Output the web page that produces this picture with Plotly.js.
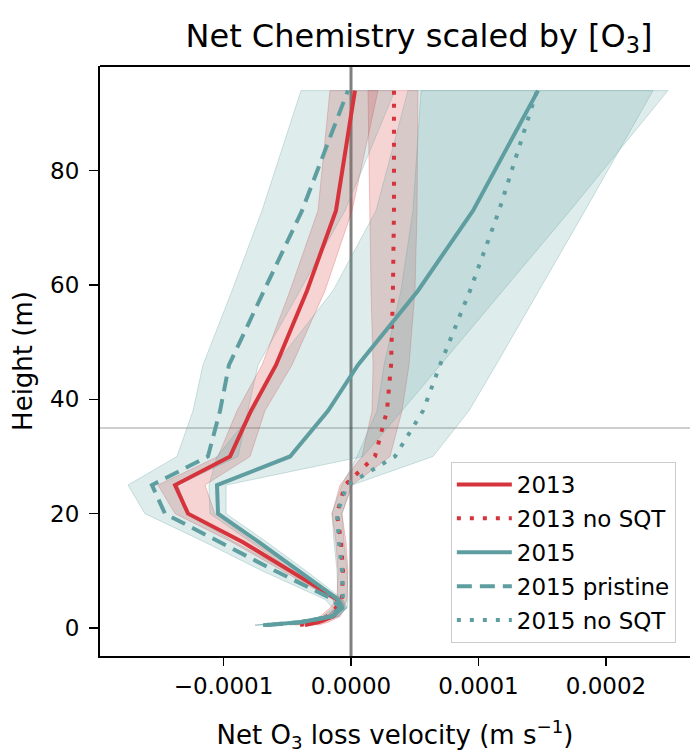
<!DOCTYPE html>
<html>
<head>
<meta charset="utf-8">
<script src="https://cdn.plot.ly/plotly-3.0.1.min.js"></script>
<style>html,body{margin:0;padding:0;background:#fff;overflow:hidden}</style>
</head>
<body>
<div id="chart" style="width:690px;height:753px"></div>
<script>
// Heights (m)
const heights = [0.5, 1, 2, 3.5, 5, 10, 15, 20, 25, 30, 38, 46, 59, 73, 94];

// 2013
const v2013 = [-0.361e-4,-0.259e-4,-0.141e-4,-0.086e-4,-0.110e-4,-0.478e-4,-0.847e-4,-1.278e-4,-1.380e-4,-0.949e-4,-0.784e-4,-0.588e-4,-0.345e-4,-0.118e-4,0.031e-4];
const lo2013 = [-0.439e-4,-0.322e-4,-0.188e-4,-0.125e-4,-0.141e-4,-0.541e-4,-0.933e-4,-1.380e-4,-1.514e-4,-1.043e-4,-0.894e-4,-0.698e-4,-0.478e-4,-0.259e-4,-0.165e-4];
const hi2013 = [-0.259e-4,-0.180e-4,-0.086e-4,-0.047e-4,-0.071e-4,-0.416e-4,-0.761e-4,-1.067e-4,-1.145e-4,-0.792e-4,-0.675e-4,-0.463e-4,-0.204e-4,0.008e-4,0.212e-4];

// 2013 no SQT
const v2013n = [-0.400e-4,-0.298e-4,-0.188e-4,-0.118e-4,-0.071e-4,-0.063e-4,-0.078e-4,-0.110e-4,-0.047e-4,0.188e-4,0.282e-4,0.314e-4,0.329e-4,0.337e-4,0.337e-4];
const lo2013n = [-0.478e-4,-0.376e-4,-0.243e-4,-0.165e-4,-0.110e-4,-0.102e-4,-0.118e-4,-0.149e-4,-0.086e-4,0.086e-4,0.165e-4,0.173e-4,0.157e-4,0.149e-4,0.133e-4];
const hi2013n = [-0.306e-4,-0.212e-4,-0.125e-4,-0.063e-4,-0.031e-4,-0.024e-4,-0.039e-4,-0.071e-4,0.008e-4,0.306e-4,0.400e-4,0.455e-4,0.502e-4,0.518e-4,0.525e-4];

// 2015
const v2015 = [-0.690e-4,-0.400e-4,-0.149e-4,-0.071e-4,-0.102e-4,-0.408e-4,-0.722e-4,-1.043e-4,-1.051e-4,-0.478e-4,-0.180e-4,0.055e-4,0.525e-4,0.957e-4,1.467e-4];
const lo2015 = [-0.753e-4,-0.463e-4,-0.196e-4,-0.110e-4,-0.141e-4,-0.463e-4,-0.784e-4,-1.106e-4,-1.114e-4,-1.051e-4,-0.761e-4,-0.596e-4,-0.141e-4,0.196e-4,0.447e-4];
const hi2015 = [-0.620e-4,-0.337e-4,-0.102e-4,-0.031e-4,-0.063e-4,-0.353e-4,-0.659e-4,-0.980e-4,-0.980e-4,0.094e-4,0.400e-4,0.706e-4,1.192e-4,1.718e-4,2.486e-4];

// 2015 pristine
const v2015p = [-0.651e-4,-0.400e-4,-0.165e-4,-0.086e-4,-0.141e-4,-0.596e-4,-1.027e-4,-1.459e-4,-1.561e-4,-1.122e-4,-1.027e-4,-0.957e-4,-0.682e-4,-0.384e-4,-0.024e-4];
const lo2015p = [-0.753e-4,-0.478e-4,-0.227e-4,-0.141e-4,-0.204e-4,-0.698e-4,-1.145e-4,-1.616e-4,-1.749e-4,-1.365e-4,-1.239e-4,-1.161e-4,-0.933e-4,-0.698e-4,-0.392e-4];
const hi2015p = [-0.557e-4,-0.306e-4,-0.102e-4,-0.039e-4,-0.086e-4,-0.494e-4,-0.910e-4,-1.286e-4,-1.357e-4,-0.886e-4,-0.808e-4,-0.729e-4,-0.400e-4,-0.047e-4,0.345e-4];

// 2015 no SQT
const v2015n = [-0.675e-4,-0.400e-4,-0.149e-4,-0.071e-4,-0.063e-4,-0.071e-4,-0.094e-4,-0.110e-4,-0.031e-4,0.345e-4,0.565e-4,0.698e-4,0.933e-4,1.161e-4,1.459e-4];
const lo2015n = [-0.753e-4,-0.463e-4,-0.196e-4,-0.110e-4,-0.102e-4,-0.110e-4,-0.133e-4,-0.149e-4,-0.071e-4,0.047e-4,0.204e-4,0.259e-4,0.392e-4,0.486e-4,0.549e-4];
const hi2015n = [-0.596e-4,-0.337e-4,-0.102e-4,-0.031e-4,-0.024e-4,-0.031e-4,-0.055e-4,-0.071e-4,0.008e-4,0.643e-4,0.925e-4,1.137e-4,1.475e-4,1.835e-4,2.369e-4];

const names = ['2013','2013 no SQT','2015','2015 pristine','2015 no SQT'];
const xTickVals = [-0.0001, 0, 0.0001, 0.0002];
const xTickText = ['\u22120.0001','0.0000','0.0001','0.0002'];
const yTickVals = [0, 20, 40, 60, 80];

const RED = '#d6343c', TEAL = '#5f9ea0';
const FONT = 'DejaVu Sans, sans-serif';

const series = [
  {name: names[0], v: v2013, lo: lo2013, hi: hi2013, color: RED, fill: 'rgba(214,39,40,0.2)', edge: 'rgba(214,39,40,0.25)', dash: 'solid'},
  {name: names[1], v: v2013n, lo: lo2013n, hi: hi2013n, color: RED, fill: 'rgba(214,39,40,0.2)', edge: 'rgba(214,39,40,0.25)', dash: '4px,9px'},
  {name: names[2], v: v2015, lo: lo2015, hi: hi2015, color: TEAL, fill: 'rgba(95,158,160,0.2)', edge: 'rgba(95,158,160,0.3)', dash: 'solid'},
  {name: names[3], v: v2015p, lo: lo2015p, hi: hi2015p, color: TEAL, fill: 'rgba(95,158,160,0.2)', edge: 'rgba(95,158,160,0.3)', dash: '15px,8px'},
  {name: names[4], v: v2015n, lo: lo2015n, hi: hi2015n, color: TEAL, fill: 'rgba(95,158,160,0.2)', edge: 'rgba(95,158,160,0.3)', dash: '4px,9px'}
];

const traces = [];
series.forEach(s => {
  traces.push({
    x: s.lo.concat(s.hi.slice().reverse()),
    y: heights.concat(heights.slice().reverse()),
    type: 'scatter', mode: 'lines', fill: 'toself',
    fillcolor: s.fill, line: {color: s.edge, width: 1},
    showlegend: false, hoverinfo: 'skip'
  });
});
series.forEach((s, i) => {
  traces.push({
    x: s.v, y: heights, type: 'scatter', mode: 'lines', name: s.name,
    legendgroup: 'g' + i,
    line: {color: s.color, width: 4, dash: s.dash}
  });
});

const layout = {
  width: 690, height: 753,
  margin: {l: 100, r: 0, t: 66, b: 97},
  paper_bgcolor: '#fff', plot_bgcolor: '#fff',
  font: {family: FONT, color: '#000'},
  title: {text: 'Net Chemistry scaled by [O<sub>3</sub>]', font: {size: 32, family: FONT, color: '#000'},
          xref: 'paper', x: 0.5407, xanchor: 'center', yref: 'container', y: 0.953, yanchor: 'middle'},
  xaxis: {
    range: [-0.00019686, 0.00026588], tickvals: xTickVals, ticktext: xTickText,
    ticks: 'outside', ticklen: 8, tickwidth: 1.5, tickcolor: '#000',
    showline: true, linecolor: '#000', linewidth: 2, showgrid: false, zeroline: false,
    tickfont: {size: 23, family: FONT, color: '#000'},
    title: {text: 'Net O<sub>3</sub> loss velocity (m s<sup>\u22121</sup>)', font: {size: 26, family: FONT, color: '#000'}, standoff: 38}
  },
  yaxis: {
    range: [-4.9, 98.3], tickvals: yTickVals,
    ticks: 'outside', ticklen: 9, tickwidth: 1.5, tickcolor: '#000', ticklabelstandoff: 5,
    showline: true, linecolor: '#000', linewidth: 2, showgrid: false, zeroline: false,
    tickfont: {size: 23, family: FONT, color: '#000'},
    title: {text: 'Height (m)', font: {size: 26, family: FONT, color: '#000'}, standoff: 10}
  },
  shapes: [
    {type: 'line', xref: 'paper', yref: 'paper', x0: 0, x1: 1, y0: 1, y1: 1, line: {color: '#000', width: 2}},
    {type: 'line', xref: 'x', yref: 'paper', x0: 0, x1: 0, y0: 0, y1: 1, line: {color: 'rgb(128,128,128)', width: 3}, layer: 'below'},
    {type: 'line', xref: 'paper', yref: 'y', x0: 0, x1: 1, y0: 35, y1: 35, line: {color: 'rgba(0,0,0,0.25)', width: 1.5}, layer: 'below'}
  ],
  legend: {
    x: 0.976, y: 0.022, xanchor: 'right', yanchor: 'bottom',
    bgcolor: 'rgba(255,255,255,0.85)', bordercolor: '#cccccc', borderwidth: 1,
    font: {size: 23, family: FONT, color: '#000'},
    tracegroupgap: 1, itemwidth: 55
  },
  showlegend: true
};

Plotly.newPlot('chart', traces, layout, {displayModeBar: false, staticPlot: true});
</script>
</body>
</html>
